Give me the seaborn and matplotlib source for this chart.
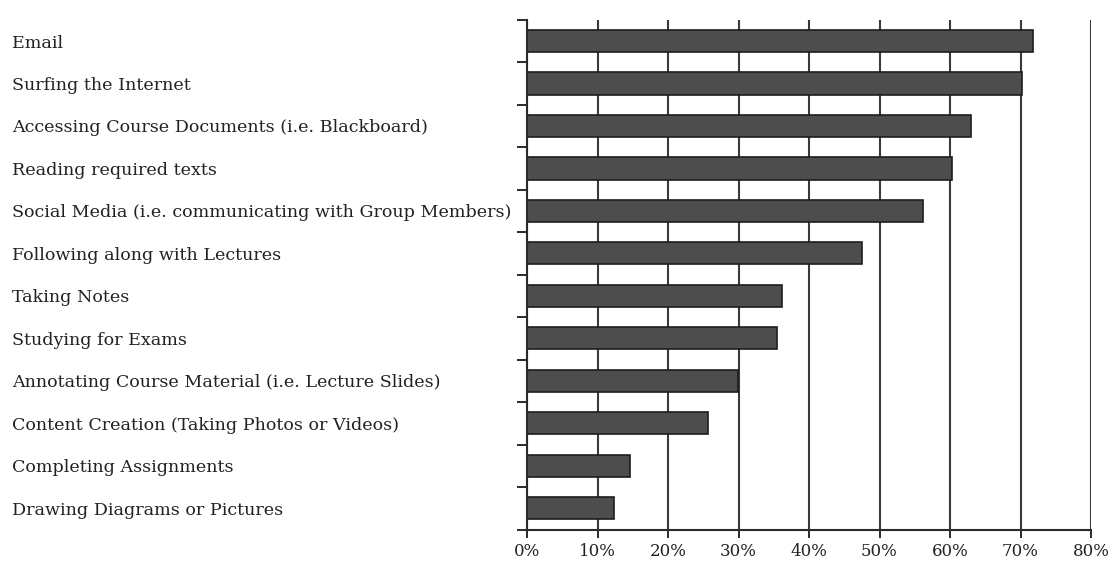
import matplotlib
matplotlib.use("Agg")
import matplotlib.pyplot as plt
import seaborn as sns
import numpy as np
import pandas as pd
from matplotlib.ticker import FuncFormatter

categories = [
    "Email",
    "Surfing the Internet",
    "Accessing Course Documents (i.e. Blackboard)",
    "Reading required texts",
    "Social Media (i.e. communicating with Group Members)",
    "Following along with Lectures",
    "Taking Notes",
    "Studying for Exams",
    "Annotating Course Material (i.e. Lecture Slides)",
    "Content Creation (Taking Photos or Videos)",
    "Completing Assignments",
    "Drawing Diagrams or Pictures",
]
values = [71.8, 70.2, 63.0, 60.3, 56.2, 47.5, 36.2, 35.5, 29.9, 25.7, 14.6, 12.3]
x_ticks = [0, 10, 20, 30, 40, 50, 60, 70, 80]

sns.set_style("white")
plt.rcParams["font.family"] = ["DejaVu Serif"]

df = pd.DataFrame({"activity": categories, "pct": values})

fig = plt.figure(figsize=(11.12, 5.65), dpi=100)
ax = fig.add_axes([527 / 1112, 1 - 529.5 / 565, (1091 - 527) / 1112, (529.5 - 19.8) / 565])

ax.set_axisbelow(True)
ax.xaxis.grid(True, color="#3a3a3a", linewidth=1.5)
sns.barplot(data=df, x="pct", y="activity", orient="h", color="#4d4d4d",
            saturation=1, edgecolor="#1e1e1e", linewidth=1.2, width=0.52, ax=ax)

ax.set_xlim(0, 80)
ax.set_ylim(len(categories) - 0.5, -0.5)
ax.set_xticks(x_ticks)
ax.xaxis.set_major_formatter(FuncFormatter(lambda v, p: f"{v:.0f}%"))
ax.set_xlabel("")
ax.set_ylabel("")

for s in ["top", "right"]:
    ax.spines[s].set_visible(False)
for s in ["left", "bottom"]:
    ax.spines[s].set_color("#2a2a2a")
    ax.spines[s].set_linewidth(1.5)

ax.set_yticks(range(len(categories)))
ax.set_yticklabels(categories, ha="left", fontsize=12.6, color="#222222")
ax.tick_params(axis="y", which="major", length=0, pad=515 * 72 / 100)
ax.set_yticks(np.arange(-0.5, len(categories), 1), minor=True)
ax.tick_params(axis="y", which="minor", left=True, length=7.2, width=1.4,
               color="#2a2a2a", direction="out")
ax.tick_params(axis="x", which="major", bottom=True, length=5.5, width=1.4,
               color="#2a2a2a", direction="out", labelsize=12,
               labelcolor="#222222", pad=4)

fig.savefig("out.png", dpi=100)
